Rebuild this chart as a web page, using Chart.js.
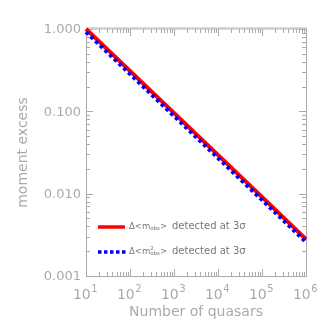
<!DOCTYPE html>
<html><head><meta charset="utf-8">
<script src="https://cdn.jsdelivr.net/npm/chart.js@4"></script>
<style>html,body{margin:0;padding:0;background:#fff}#w{width:332px;height:332px}</style>
</head><body><div id="w"><canvas id="c" width="332" height="332"></canvas></div>
<script>
const nQuasars = [10, 100, 1000, 10000, 100000, 1000000];
const meanExcess = [1.0, 0.309, 0.0955, 0.0295, 0.0091, 0.0028];
const varExcess = [0.92, 0.284, 0.0878, 0.0271, 0.0084, 0.00258];
const yTickValues = [1, 0.1, 0.01, 0.001];
const yTickLabels = ['1.000', '0.100', '0.010', '0.001'];
const xTickExponents = [1, 2, 3, 4, 5, 6];
const xTitle = 'Number of quasars';
const yTitle = 'moment excess';
const legendLabels = ['detected at 3σ', 'detected at 3σ'];

const AX = '#aaaaaa';
const FONT = '"DejaVu Sans", sans-serif';

const axesPlugin = {
  id: 'idlAxes',
  beforeDatasetsDraw(chart) {
    const {ctx, chartArea: a, scales: {x, y}} = chart;
    ctx.save();
    ctx.strokeStyle = AX;
    ctx.lineWidth = 1;
    ctx.beginPath();
    ctx.moveTo(a.left + 0.5, a.top); ctx.lineTo(a.left + 0.5, a.bottom + 0.5);
    ctx.lineTo(a.right + 0.5, a.bottom + 0.5); ctx.lineTo(a.right + 0.5, a.top);
    ctx.stroke();
    ctx.strokeStyle = '#cccccc';
    ctx.lineWidth = 2.5;
    ctx.beginPath(); ctx.moveTo(a.left, a.top - 0.5); ctx.lineTo(a.right + 1, a.top - 0.5); ctx.stroke();
    ctx.strokeStyle = AX;
    ctx.lineWidth = 1;
    ctx.beginPath();
    for (let e = 1; e <= 6; e++) {
      for (let m = 1; m <= 9; m++) {
        const v = m * Math.pow(10, e);
        if (v > 1e6) break;
        const px = Math.round(x.getPixelForValue(v)) + 0.5;
        const len = m === 1 ? 7 : 4;
        ctx.moveTo(px, a.bottom); ctx.lineTo(px, a.bottom - len);
        ctx.moveTo(px, a.top); ctx.lineTo(px, a.top + len);
      }
    }
    for (let e = -3; e <= 0; e++) {
      for (let m = 1; m <= 9; m++) {
        const v = m * Math.pow(10, e);
        if (v > 1) break;
        const py = Math.round(y.getPixelForValue(v)) + 0.5;
        const len = m === 1 ? 7 : 4;
        ctx.moveTo(a.left, py); ctx.lineTo(a.left + len, py);
        ctx.moveTo(a.right, py); ctx.lineTo(a.right - len, py);
      }
    }
    ctx.stroke();
    ctx.fillStyle = '#aaaaaa';
    ctx.font = '13px ' + FONT;
    ctx.textAlign = 'right'; ctx.textBaseline = 'middle';
    yTickValues.forEach((v, i) => {
      ctx.fillText(yTickLabels[i], a.left - 5, y.getPixelForValue(v) + 1);
    });
    xTickExponents.forEach(e => {
      const px = x.getPixelForValue(Math.pow(10, e));
      ctx.font = '14px ' + FONT;
      const w1 = ctx.measureText('10').width;
      ctx.font = '10px ' + FONT;
      const w2 = ctx.measureText(String(e)).width;
      const x0 = px - (w1 + w2) / 2 - 1;
      ctx.textAlign = 'left'; ctx.textBaseline = 'alphabetic';
      ctx.font = '14px ' + FONT;
      ctx.fillText('10', x0, a.bottom + 23);
      ctx.font = '10px ' + FONT;
      ctx.fillText(String(e), x0 + w1 + 0.5, a.bottom + 16);
    });
    ctx.font = '14px ' + FONT;
    ctx.textAlign = 'center'; ctx.textBaseline = 'middle';
    ctx.fillText(xTitle, (a.left + a.right) / 2, 312);
    ctx.save();
    ctx.translate(23, (a.top + a.bottom) / 2);
    ctx.rotate(-Math.PI / 2);
    ctx.fillText(yTitle, 0, 0);
    ctx.restore();
    const lx0 = 98, lx1 = 125;
    const rows = [227, 252];
    ctx.lineCap = 'butt';
    ctx.strokeStyle = '#ff0000'; ctx.lineWidth = 3.5;
    ctx.beginPath(); ctx.moveTo(lx0, rows[0]); ctx.lineTo(lx1, rows[0]); ctx.stroke();
    ctx.strokeStyle = '#0000ff'; ctx.lineWidth = 3.5; ctx.setLineDash([3.5, 2.5]);
    ctx.beginPath(); ctx.moveTo(lx0, rows[1]); ctx.lineTo(lx1 + 1, rows[1]); ctx.stroke();
    ctx.setLineDash([]);
    ctx.fillStyle = '#777777';
    ctx.textAlign = 'left'; ctx.textBaseline = 'alphabetic';
    rows.forEach((ry, i) => {
      let tx = 129;
      const base = ry + 2;
      ctx.font = '8.5px ' + FONT;
      ctx.fillText('Δ<m', tx, base); tx += ctx.measureText('Δ<m').width;
      ctx.font = '5.5px ' + FONT;
      if (i === 1) ctx.fillText('2', tx, base - 4);
      ctx.fillText('obs', tx, base + 1); tx += ctx.measureText('obs').width;
      ctx.font = '8.5px ' + FONT;
      ctx.fillText('>', tx, base);
      ctx.font = '10px ' + FONT;
      ctx.fillText(legendLabels[i], 172, base);
    });
    ctx.restore();
  }
};

new Chart(document.getElementById('c'), {
  type: 'line',
  data: {
    datasets: [
      { data: nQuasars.map((n, i) => ({x: n, y: meanExcess[i]})), borderColor: '#ff0000', borderWidth: 4, pointRadius: 0, tension: 0, clip: false, order: 1 },
      { data: nQuasars.map((n, i) => ({x: n, y: varExcess[i]})), borderColor: '#0000ff', borderWidth: 4, borderDash: [3.5, 3], pointRadius: 0, tension: 0, clip: false, order: 0 }
    ]
  },
  options: {
    responsive: false,
    animation: false,
    devicePixelRatio: 1,
    layout: { padding: { left: 86, right: 26, top: 29, bottom: 56 } },
    plugins: { legend: { display: false }, tooltip: { enabled: false } },
    scales: {
      x: { type: 'logarithmic', min: 10, max: 1e6, display: false },
      y: { type: 'logarithmic', min: 0.001, max: 1, display: false }
    }
  },
  plugins: [axesPlugin]
});
</script></body></html>
